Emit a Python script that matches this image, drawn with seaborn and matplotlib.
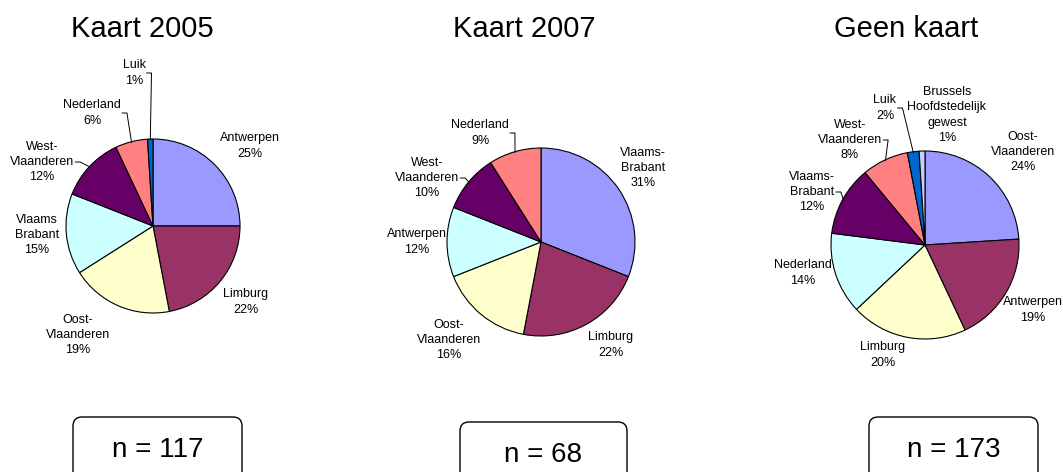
"""Drie taartdiagrammen: herkomst bezoekers per kaartversie."""

import numpy as np
import matplotlib
matplotlib.use("Agg")
import matplotlib.pyplot as plt
from matplotlib.patches import FancyBboxPatch
import seaborn as sns

# ---- data -------------------------------------------------------------
titels = ["Kaart 2005", "Kaart 2007", "Geen kaart"]
aantallen = [117, 68, 173]

labels_2005 = ["Antwerpen", "Limburg", "Oost-\nVlaanderen", "Vlaams\nBrabant",
               "West-\nVlaanderen", "Nederland", "Luik"]
waarden_2005 = [25, 22, 19, 15, 12, 6, 1]

labels_2007 = ["Vlaams-\nBrabant", "Limburg", "Oost-\nVlaanderen", "Antwerpen",
               "West-\nVlaanderen", "Nederland"]
waarden_2007 = [31, 22, 16, 12, 10, 9]

labels_geen = ["Oost-\nVlaanderen", "Antwerpen", "Limburg", "Nederland",
               "Vlaams-\nBrabant", "West-\nVlaanderen", "Luik",
               "Brussels\nHoofdstedelijk\ngewest"]
waarden_geen = [24, 19, 20, 14, 12, 8, 2, 1]

# Excel standaard palet
kleuren = ["#9999FF", "#993366", "#FFFFCC", "#CCFFFF", "#660066",
           "#FF8080", "#0066CC", "#CCCCFF"]

# ---- layout (pixels, y naar beneden) -----------------------------------
W, H = 1063, 472
pies = [
    dict(labels=labels_2005, waarden=waarden_2005, centrum=(153, 226), r=87,
         offsets=[(97, 80), (93, -76), (-75, -109), (-116, -9),
                  (-111, 64), (-61, 113), (-19, 153)],
         leiders=[4, 5, 6]),
    dict(labels=labels_2007, waarden=waarden_2007, centrum=(541, 242), r=94,
         offsets=[(102, 74), (70, -103), (-92, -98), (-124, 0),
                  (-114, 64), (-61, 109)],
         leiders=[4, 5]),
    dict(labels=labels_geen, waarden=waarden_geen, centrum=(925, 245), r=94,
         offsets=[(98, 93), (108, -65), (-42, -110), (-122, -28),
                  (-113, 53), (-75, 105), (-40, 137), (22, 130)],
         leiders=[4, 5, 6]),
]
titel_x = [142, 524, 906]
boxen = [(73, 417, 169), (460, 422, 167), (869, 417, 169)]

sns.set_theme(style="white")
plt.rcParams["font.family"] = ["Liberation Sans", "DejaVu Sans"]
plt.rcParams["text.color"] = "black"

fig = plt.figure(figsize=(W / 100, H / 100), dpi=100)
ax = fig.add_axes([0, 0, 1, 1])

teksten = []
for p, titel, tx in zip(pies, titels, titel_x):
    cx, cy = p["centrum"]
    cy = H - cy
    palet = sns.color_palette(kleuren[:len(p["waarden"])])
    wedges, _ = ax.pie(p["waarden"], colors=palet, startangle=90,
                       counterclock=False, center=(cx, cy), radius=p["r"],
                       wedgeprops=dict(edgecolor="black", linewidth=0.8))
    for i, (w, lab, val, (dx, dy)) in enumerate(zip(wedges, p["labels"],
                                                    p["waarden"], p["offsets"])):
        t = ax.text(cx + dx, cy + dy, f"{lab}\n{val}%", ha="center", va="center",
                    fontsize=9, linespacing=1.35, color="black")
        if i in p["leiders"]:
            hoek = np.deg2rad((w.theta1 + w.theta2) / 2)
            rand = (cx + p["r"] * 0.99 * np.cos(hoek), cy + p["r"] * 0.99 * np.sin(hoek))
            teksten.append((t, rand))
    ax.text(tx, H - 37, titel, ha="center", va="baseline", fontsize=21, color="black")

for (bx, by, bw), n in zip(boxen, aantallen):
    box = FancyBboxPatch((bx, -20), bw, H - by + 20,
                         boxstyle="round,pad=0,rounding_size=9",
                         facecolor="white", edgecolor="black", linewidth=1.0)
    ax.add_patch(box)
    ax.text(bx + bw / 2, H - by - 40, f"n = {n}", ha="center", va="baseline",
            fontsize=20, color="black")

ax.set_xlim(0, W)
ax.set_ylim(0, H)
ax.set_aspect("equal")
ax.axis("off")

# aanwijslijntjes van label naar taartrand
fig.canvas.draw()
renderer = fig.canvas.get_renderer()
inv = ax.transData.inverted()
for t, (rx, ry) in teksten:
    bb = t.get_window_extent(renderer)
    (x0, y0), (x1, y1) = inv.transform([(bb.x0, bb.y0), (bb.x1, bb.y1)])
    ym = (y0 + y1) / 2
    if rx > x1:
        sx, ex = x1 + 1, x1 + 6
    else:
        sx, ex = x0 - 1, x0 - 6
    ax.plot([sx, ex, rx], [ym, ym, ry], color="black", linewidth=0.7)

fig.savefig("out.png", dpi=100, facecolor="white")
